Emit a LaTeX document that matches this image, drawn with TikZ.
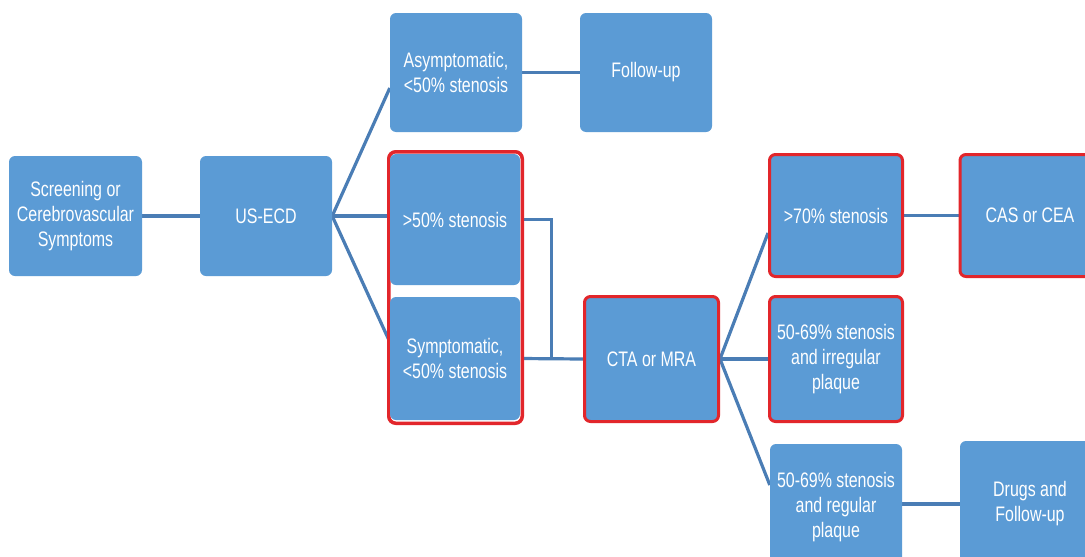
\documentclass[tikz,border=0pt]{standalone}
\usepackage{fontspec}
\setmainfont[FakeStretch=0.76]{Liberation Sans}
\usetikzlibrary{backgrounds,calc}
\definecolor{boxblue}{HTML}{5B9BD5}
\definecolor{lineblue}{HTML}{4A7DB5}
\definecolor{redline}{HTML}{E2262B}
\begin{document}
\begin{tikzpicture}[x=1pt,y=-1pt,
  bbox/.style={fill=boxblue,rounded corners=6pt,text=white,align=center,
    inner sep=0pt,font=\fontsize{21}{25}\selectfont},
  rbox/.style={bbox,draw=redline,line width=3pt},
  conn/.style={draw=lineblue,line width=3.2pt}]
\useasboundingbox (0,0) rectangle (1085,557);
% group red frame
\draw[redline,line width=3.5pt,rounded corners=7pt,fill=white] (388.75,151.75) rectangle (522.25,423.25);
\node[bbox,minimum width=133pt,minimum height=120pt] (scr) at (75.5,216) {Screening or\\Cerebrovascular\\Symptoms};
\node[bbox,minimum width=132pt,minimum height=120pt] (us) at (266,216) {US-ECD};
\node[bbox,minimum width=132pt,minimum height=119pt] (asym) at (456,72.5) {Asymptomatic,\\<50\% stenosis};
\node[bbox,minimum width=132pt,minimum height=119pt] (fup) at (646,72.5) {Follow-up};
\node[bbox,minimum width=130pt,minimum height=131pt] (gt) at (455,219.5) {>50\% stenosis};
\node[bbox,minimum width=130pt,minimum height=123pt] (sym) at (455,358.5) {Symptomatic,\\<50\% stenosis};
\node[rbox,minimum width=134pt,minimum height=125pt] (cta) at (651.5,359) {CTA or MRA};
\node[rbox,minimum width=133pt,minimum height=122pt] (gts) at (836,215.5) {>70\% stenosis};
\node[rbox,minimum width=140pt,minimum height=122pt] (cas) at (1030,215.5) {CAS or CEA};
\node[rbox,minimum width=133pt,minimum height=125pt] (irr) at (836,359) {50-69\% stenosis\\and irregular\\plaque};
\node[bbox,minimum width=132pt,minimum height=126pt] (reg) at (836,507) {50-69\% stenosis\\and regular\\plaque};
\node[bbox,minimum width=140pt,minimum height=126pt] (drg) at (1030,504) {Drugs and\\Follow-up};
\coordinate (junc) at ($(sym.east)!0.5!(cta.west)$);
\begin{scope}[on background layer]
\fill[white] (0,0) rectangle (1085,557);
\draw[conn] (scr.east) -- (us.west);
\draw[conn] (us.east) -- ([yshift=-15.5pt]asym.west);
\draw[conn] (us.east) -- (gt.west |- us.east);
\draw[conn] (us.east) -- ([yshift=16.5pt]sym.west);
\draw[conn] (asym.east) -- (fup.west);
\draw[conn] (gt.east) -| (junc);
\draw[conn] (sym.east) -- (cta.west);
\draw[conn] (cta.east) -- ([yshift=-17.5pt]gts.west);
\draw[conn] (cta.east) -- (irr.west);
\draw[conn] (cta.east) -- ([yshift=22pt]reg.west);
\draw[conn] (gts.east) -- (cas.west);
\draw[conn] (drg.west) -- (reg.east |- drg.west);
\end{scope}
\end{tikzpicture}
\end{document}
